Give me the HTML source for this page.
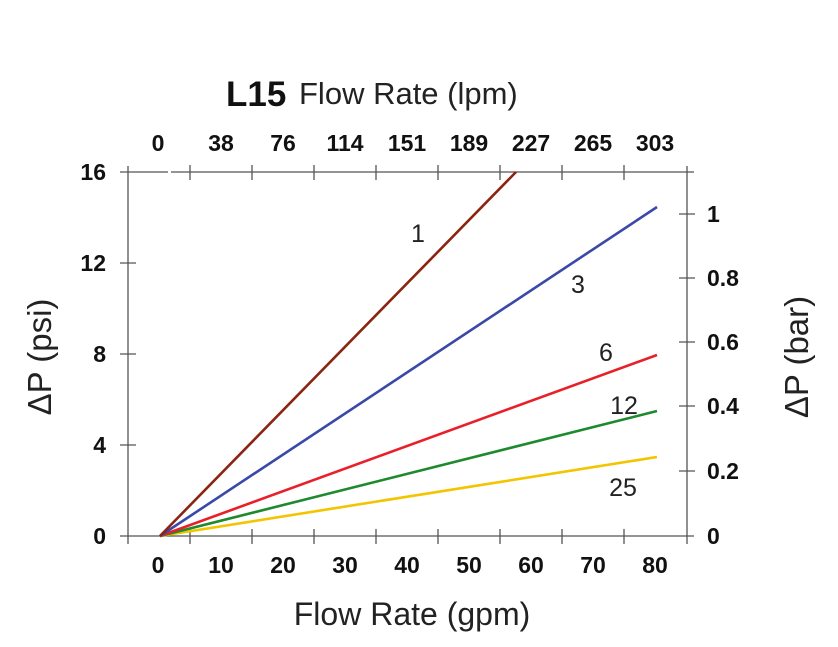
<!DOCTYPE html>
<html><head><style>body{margin:0;background:#fff}</style></head><body>
<svg width="838" height="642" xmlns="http://www.w3.org/2000/svg" font-family="Liberation Sans, sans-serif">
<rect width="838" height="642" fill="#fff"/>
<g stroke="#555" stroke-width="1.3" fill="none">
<line x1="128" y1="166" x2="128" y2="544"/>
<line x1="687" y1="166" x2="687" y2="544"/>
<line x1="120" y1="536" x2="694" y2="536"/>
<line x1="120" y1="172" x2="168" y2="172"/>
<line x1="171" y1="172" x2="694" y2="172"/>
<path d="M120 263H136M120 354H136M120 445H136"/>
<path d="M679 214H695M679 278H695M679 342H695M679 406H695M679 471H695"/>
<path d="M190 529V544M252 529V544M314 529V544M376 529V544M438 529V544M500 529V544M562 529V544M624 529V544"/>
<path d="M190 165V180M252 165V180M314 165V180M376 165V180M438 165V180M500 165V180M562 165V180M624 165V180"/>
</g>
<g stroke-width="2.6" fill="none">
<line x1="160" y1="536" x2="657" y2="457" stroke="#f2c500"/>
<line x1="160" y1="536" x2="657" y2="411" stroke="#1e8a2e"/>
<line x1="160" y1="536" x2="657" y2="355" stroke="#e8202a"/>
<line x1="160" y1="536" x2="657" y2="207" stroke="#3a48a8"/>
<line x1="160" y1="536" x2="516" y2="172" stroke="#8b2410"/>
</g>
<g font-size="25" fill="#222">
<text x="418" y="242" text-anchor="middle">1</text>
<text x="578" y="293" text-anchor="middle">3</text>
<text x="606" y="361" text-anchor="middle">6</text>
<text x="624" y="414" text-anchor="middle">12</text>
<text x="623" y="496" text-anchor="middle">25</text>
</g>
<g font-size="23" font-weight="bold" fill="#111" text-anchor="middle">
<text x="158" y="151">0</text><text x="221" y="151">38</text><text x="283" y="151">76</text><text x="345" y="151">114</text><text x="407" y="151">151</text><text x="469" y="151">189</text><text x="531" y="151">227</text><text x="593" y="151">265</text><text x="655" y="151">303</text>
<text x="158" y="573">0</text><text x="221" y="573">10</text><text x="283" y="573">20</text><text x="345" y="573">30</text><text x="407" y="573">40</text><text x="469" y="573">50</text><text x="531" y="573">60</text><text x="593" y="573">70</text><text x="655" y="573">80</text>
</g>
<g font-size="23" font-weight="bold" fill="#111" text-anchor="end">
<text x="106" y="180">16</text><text x="106" y="271">12</text><text x="106" y="362">8</text><text x="106" y="453">4</text><text x="106" y="544">0</text>
</g>
<g font-size="23" font-weight="bold" fill="#111">
<text x="707" y="222">1</text><text x="707" y="286">0.8</text><text x="707" y="350">0.6</text><text x="707" y="414">0.4</text><text x="707" y="479">0.2</text><text x="707" y="544">0</text>
</g>
<text x="226" y="106" font-size="35" font-weight="bold" fill="#111">L15</text>
<text x="299" y="104" font-size="31" fill="#222">Flow Rate (lpm)</text>
<text x="412" y="625" font-size="32" fill="#222" text-anchor="middle">Flow Rate (gpm)</text>
<text transform="translate(51,357) rotate(-90)" font-size="33" fill="#222" text-anchor="middle">ΔP (psi)</text>
<text transform="translate(808,357) rotate(-90)" font-size="33" fill="#222" text-anchor="middle">ΔP (bar)</text>
</svg>
</body></html>
